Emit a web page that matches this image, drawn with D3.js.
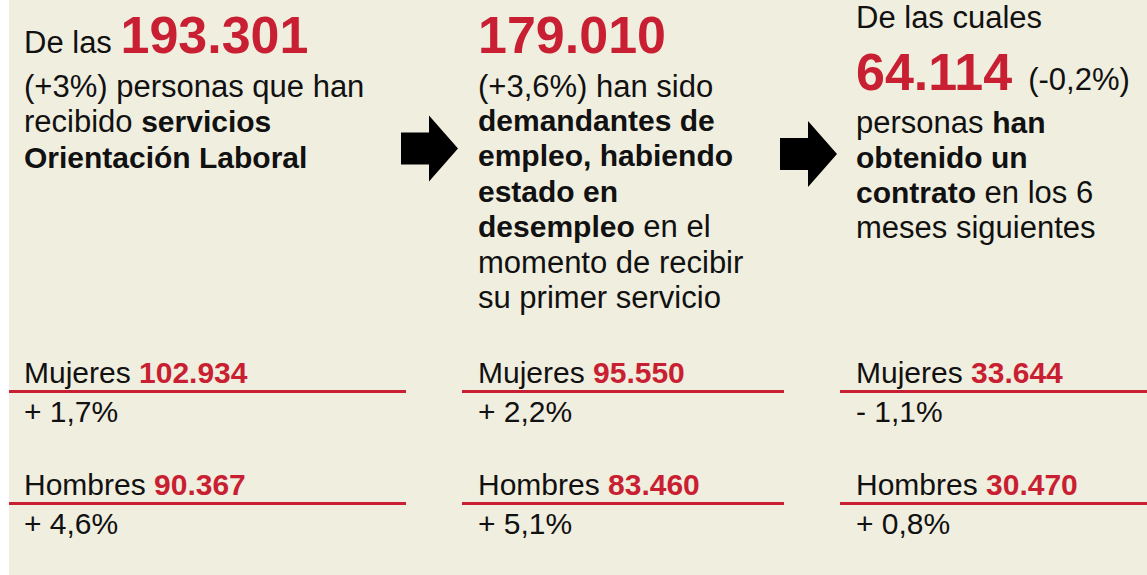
<!DOCTYPE html>
<html>
  <head>
    <meta charset="utf-8" />
    <style>
      html, body { margin: 0; padding: 0; background: #fff; }
      svg { display: block; }
    </style>
  </head>
  <body>

<svg id="chart"></svg>

<script src="https://d3js.org/d3.v7.min.js"></script>
<script>
// the three stages of the funnel
const stages = ['atendidas', 'demandantes', 'contratadas']
// totals per stage and change vs previous year (%)
const totals = [193301, 179010, 64114]
const totalChange = [3, 3.6, -0.2]
// split by sex
const mujeres = [102934, 95550, 33644]
const mujeresChange = [1.7, 2.2, -1.1]
const hombres = [90367, 83460, 30470]
const hombresChange = [4.6, 5.1, 0.8]

const WIDTH = 1147
const HEIGHT = 575
const RED = '#c81f32'
const INK = '#111'
const BG = '#f0eedf'
const FONT = '"Liberation Sans", Arial, sans-serif'

const loc = d3.formatLocale({ decimal: ',', thousands: '.', grouping: [3], currency: ['', ''], minus: '-' })
const fmtNum = loc.format(',')
const fmtPct = loc.format('.2~r')
const signed = v => (v < 0 ? '-' : '+') + fmtPct(Math.abs(v)) + '%'
const spaced = v => (v < 0 ? '- ' : '+ ') + fmtPct(Math.abs(v)) + '%'

// text column and rule positions per stage
const textX = d3.scaleOrdinal().domain(stages).range([24, 478, 856])
const ruleX0 = d3.scaleOrdinal().domain(stages).range([9, 462, 840])
const ruleX1 = d3.scaleOrdinal().domain(stages).range([406, 784, WIDTH])

const svg = d3.select('#chart')
  .attr('width', WIDTH)
  .attr('height', HEIGHT)
  .style('font-family', FONT)

svg.append('rect')
  .attr('x', 9)
  .attr('width', WIDTH - 9)
  .attr('height', HEIGHT)
  .attr('fill', BG)

// segments: b = bold, n = big red number
const big = i => ({ t: fmtNum(totals[i]), n: true })
const headers = [
  [
    { y: 53, segs: [{ t: 'De las ' }, big(0)] },
    { y: 97, segs: [{ t: '(' + signed(totalChange[0]) + ') personas que han' }] },
    { y: 132, segs: [{ t: 'recibido ' }, { t: 'servicios', b: true }] },
    { y: 168, segs: [{ t: 'Orientación Laboral', b: true }] }
  ],
  [
    { y: 53, segs: [big(1)] },
    { y: 97, segs: [{ t: '(' + signed(totalChange[1]) + ') han sido' }] },
    { y: 131, segs: [{ t: 'demandantes de', b: true }] },
    { y: 166, segs: [{ t: 'empleo, habiendo', b: true }] },
    { y: 202, segs: [{ t: 'estado en', b: true }] },
    { y: 237, segs: [{ t: 'desempleo', b: true }, { t: ' en el' }] },
    { y: 273, segs: [{ t: 'momento de recibir' }] },
    { y: 308, segs: [{ t: 'su primer servicio' }] }
  ],
  [
    { y: 28, segs: [{ t: 'De las cuales' }] },
    { y: 90, segs: [big(2), { t: '(' + signed(totalChange[2]) + ')', dx: 16 }] },
    { y: 133, segs: [{ t: 'personas ' }, { t: 'han', b: true }] },
    { y: 168, segs: [{ t: 'obtenido un', b: true }] },
    { y: 203, segs: [{ t: 'contrato', b: true }, { t: ' en los 6' }] },
    { y: 238, segs: [{ t: 'meses siguientes' }] }
  ]
]

const cols = svg.selectAll('g.col')
  .data(stages)
  .join('g')
  .attr('class', 'col')
  .attr('transform', d => `translate(${textX(d)},0)`)

cols.each(function (stage, i) {
  const g = d3.select(this)
  g.selectAll('text.head')
    .data(headers[i])
    .join('text')
    .attr('class', 'head')
    .attr('y', d => d.y)
    .attr('font-size', 31)
    .attr('fill', INK)
    .selectAll('tspan')
    .data(d => d.segs)
    .join('tspan')
    .attr('dx', d => d.dx || null)
    .attr('font-size', d => d.n ? 52 : d.b ? 30 : null)
    .attr('font-weight', d => (d.b || d.n) ? 'bold' : null)
    .attr('fill', d => d.n ? RED : null)
    .text(d => d.t)
})

// breakdown by sex
const rows = [
  { label: 'Mujeres', values: mujeres, change: mujeresChange, y: 383 },
  { label: 'Hombres', values: hombres, change: hombresChange, y: 495 }
]

rows.forEach(row => {
  const grp = svg.append('g')
  grp.selectAll('line')
    .data(stages)
    .join('line')
    .attr('x1', d => ruleX0(d))
    .attr('x2', d => ruleX1(d))
    .attr('y1', row.y + 8.5)
    .attr('y2', row.y + 8.5)
    .attr('stroke', RED)
    .attr('stroke-width', 3)

  const lbl = grp.selectAll('text.lbl')
    .data(stages)
    .join('text')
    .attr('class', 'lbl')
    .attr('x', d => textX(d))
    .attr('y', row.y)
    .attr('font-size', 30)
    .attr('fill', INK)
  lbl.append('tspan').text(row.label + ' ')
  lbl.append('tspan')
    .attr('font-weight', 'bold')
    .attr('fill', RED)
    .text((d, i) => fmtNum(row.values[i]))

  grp.selectAll('text.chg')
    .data(stages)
    .join('text')
    .attr('class', 'chg')
    .attr('x', d => textX(d))
    .attr('y', row.y + 39)
    .attr('font-size', 30)
    .attr('fill', INK)
    .text((d, i) => spaced(row.change[i]))
})

// arrows between stages
const arrowShape = [[0, -16], [28, -16], [28, -33], [57, 0], [28, 33], [28, 16], [0, 16]]
const arrows = [{ x: 401, y: 148.5 }, { x: 780, y: 154 }]
svg.selectAll('path.arrow')
  .data(arrows)
  .join('path')
  .attr('class', 'arrow')
  .attr('transform', d => `translate(${d.x},${d.y})`)
  .attr('d', d3.line()(arrowShape) + 'Z')
  .attr('fill', '#000')
</script>
  </body>
</html>
